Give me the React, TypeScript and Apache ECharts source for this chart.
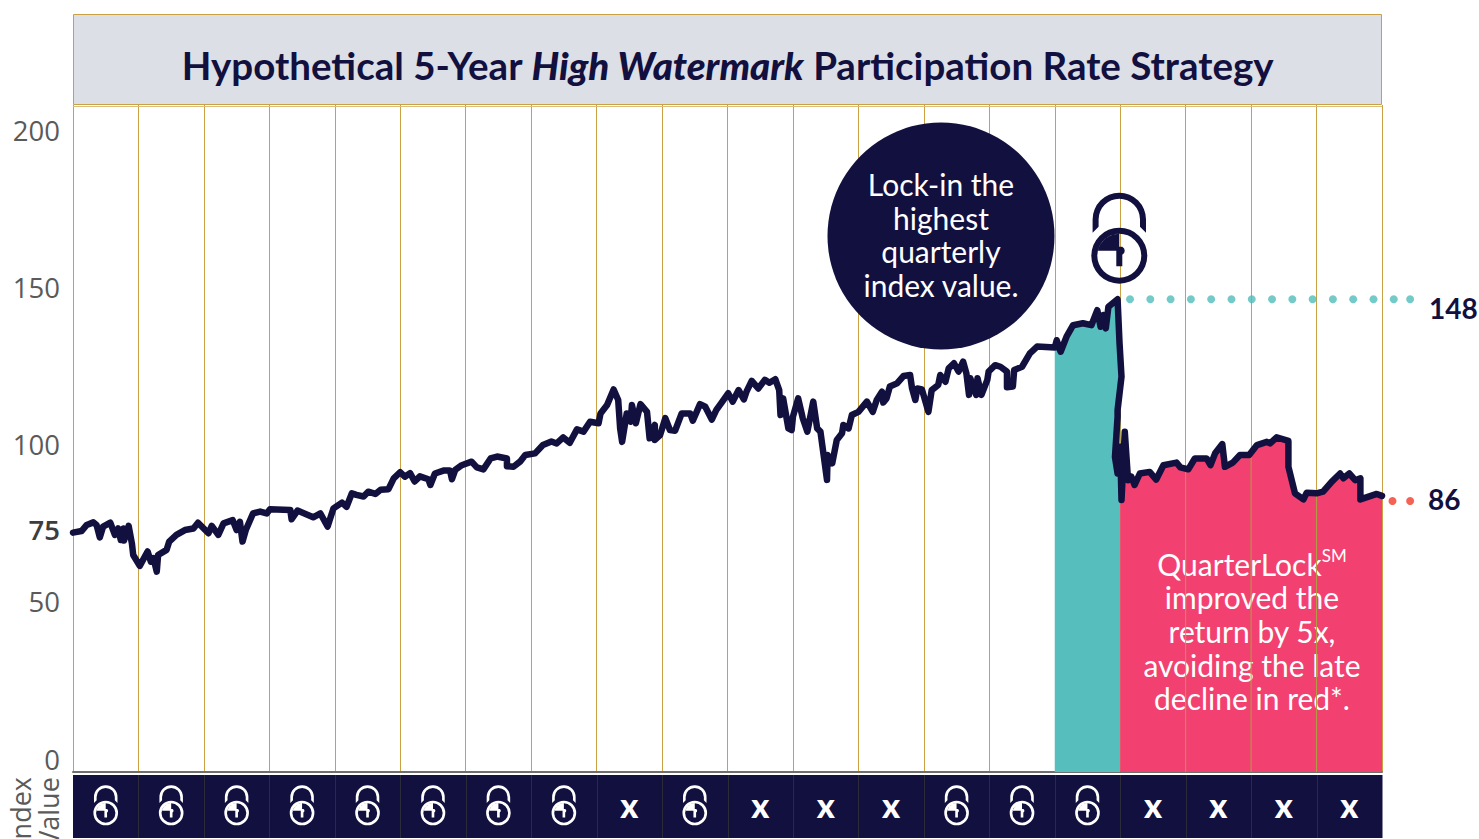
import React, { useEffect, useRef } from "react";
import * as echarts from "echarts";

const TEXT_FONT = "Lato";
const NAVY = "#12103F";
const GOLD = "#C9A044";

const quarterPos = [
  0, 0.13, 0.21, 0.31, 0.36, 0.41, 0.46, 0.57, 0.64, 0.69, 0.73, 0.77, 0.78, 0.85, 0.9, 0.92, 1.02, 1.14, 1.19, 1.23,
  1.28, 1.3, 1.43, 1.47, 1.58, 1.71, 1.84, 1.91, 2.07, 2.12, 2.22, 2.3, 2.44, 2.5, 2.55, 2.59, 2.64, 2.75, 2.86, 2.96,
  3.01, 3.32, 3.34, 3.43, 3.67, 3.78, 3.89, 3.98, 4.11, 4.18, 4.26, 4.33, 4.44, 4.51, 4.62, 4.7, 4.82, 4.9, 5.0, 5.07,
  5.15, 5.22, 5.3, 5.43, 5.46, 5.53, 5.66, 5.76, 5.79, 5.84, 5.94, 6.09, 6.17, 6.27, 6.38, 6.48, 6.63, 6.63, 6.73, 6.83,
  6.91, 7.06, 7.18, 7.31, 7.39, 7.49, 7.59, 7.7, 7.8, 7.9, 8.03, 8.06, 8.16, 8.26, 8.33, 8.36, 8.39, 8.46, 8.52, 8.54,
  8.6, 8.67, 8.77, 8.81, 8.89, 8.89, 8.97, 9.05, 9.12, 9.2, 9.3, 9.43, 9.47, 9.58, 9.66, 9.76, 9.83, 9.91, 10.01, 10.08,
  10.17, 10.25, 10.29, 10.37, 10.47, 10.57, 10.64, 10.73, 10.79, 10.81, 10.85, 10.93, 10.98, 11.0, 11.08, 11.15, 11.22, 11.31, 11.37, 11.42,
  11.52, 11.53, 11.6, 11.67, 11.75, 11.77, 11.85, 11.9, 12.0, 12.13, 12.22, 12.28, 12.36, 12.38, 12.43, 12.48, 12.59, 12.69, 12.79, 12.82,
  12.87, 12.9, 12.97, 13.07, 13.12, 13.22, 13.25, 13.33, 13.38, 13.46, 13.53, 13.6, 13.65, 13.69, 13.71, 13.8, 13.82, 13.88, 13.97, 13.99,
  14.09, 14.17, 14.27, 14.27, 14.36, 14.38, 14.5, 14.62, 14.73, 15.0, 15.03, 15.09, 15.18, 15.28, 15.43, 15.56, 15.65, 15.7, 15.74, 15.78,
  15.82, 15.96, 15.99, 16.02, 15.96, 15.96, 15.92, 15.96, 16.0, 16.02, 16.07, 16.12, 16.17, 16.22, 16.3, 16.45, 16.55, 16.66, 16.86, 16.92,
  17.04, 17.14, 17.32, 17.38, 17.45, 17.56, 17.6, 17.72, 17.83, 17.97, 18.09, 18.24, 18.29, 18.39, 18.57, 18.57, 18.67, 18.8, 18.85, 19.0,
  19.1, 19.23, 19.36, 19.41, 19.5, 19.59, 19.67, 19.67, 19.92, 20.0,
];

const indexValues = [
  74.9, 75.4, 77.3, 78.1, 77.3, 73.4, 76.8, 78.0, 74.2, 76.2, 72.6, 76.2, 72.4, 77.0, 71.5, 67.9, 64.5, 69.0, 65.8, 66.9,
  62.7, 67.9, 69.5, 72.1, 74.2, 75.7, 76.2, 78.0, 74.7, 77.0, 74.2, 77.8, 78.8, 75.7, 78.3, 72.1, 75.7, 80.9, 81.5, 80.9,
  82.2, 82.0, 79.1, 81.8, 79.7, 80.9, 76.8, 82.5, 84.3, 83.0, 87.2, 86.7, 86.2, 87.7, 87.0, 88.3, 88.5, 91.9, 93.8, 92.4,
  93.5, 90.9, 92.5, 91.6, 89.8, 93.4, 94.3, 94.3, 91.6, 94.5, 96.0, 97.1, 95.3, 94.7, 98.1, 98.7, 98.1, 95.7, 95.5, 97.1,
  99.2, 99.7, 102.3, 103.4, 102.8, 104.7, 103.0, 107.2, 106.5, 109.6, 109.1, 112.2, 114.8, 119.7, 116.4, 107.5, 103.3, 112.2, 109.6, 114.8,
  109.1, 115.1, 112.7, 104.4, 108.6, 103.9, 105.4, 110.7, 107.0, 106.8, 112.2, 112.2, 109.9, 115.1, 114.3, 110.3, 113.3, 115.6, 118.5, 115.9,
  119.5, 116.6, 119.0, 122.4, 120.0, 122.7, 121.8, 122.9, 119.5, 111.7, 116.9, 107.5, 107.0, 111.2, 116.9, 110.7, 106.5, 115.9, 107.5, 106.5,
  91.4, 99.2, 96.6, 103.9, 106.0, 108.6, 107.5, 111.7, 112.7, 115.9, 112.7, 116.4, 119.0, 115.6, 116.9, 120.6, 121.6, 123.9, 124.2, 120.0,
  116.4, 120.0, 119.7, 112.7, 119.5, 121.1, 124.2, 122.1, 126.3, 127.9, 125.3, 128.4, 124.7, 118.0, 123.2, 118.0, 123.2, 118.0, 122.7, 125.3,
  127.3, 126.8, 125.3, 120.4, 120.6, 125.8, 126.8, 131.0, 133.1, 132.8, 135.1, 131.5, 136.2, 139.8, 140.4, 139.8, 144.5, 139.3, 143.0, 138.8,
  145.6, 147.9, 134.1, 123.7, 113.2, 111.1, 98.6, 93.4, 101.8, 85.1, 106.5, 91.3, 92.4, 89.8, 93.4, 93.9, 91.5, 96.0, 96.8, 95.3,
  94.7, 98.1, 98.1, 96.0, 99.7, 102.6, 95.5, 96.8, 99.2, 99.2, 102.3, 103.3, 102.8, 104.7, 103.6, 95.5, 87.2, 85.3, 87.4, 87.2,
  87.7, 90.8, 93.4, 91.9, 93.4, 91.3, 91.9, 85.3, 87.0, 86.4,
];

const quarterMarks = ["lock", "lock", "lock", "lock", "lock", "lock", "lock", "lock", "x", "lock", "x", "x", "x", "lock", "lock", "lock", "x", "x", "x", "x"];
const axisTickLabels = [0, 50, 100, 150, 200];
const highlightedTick = [75];
const highDotsX = [16.15, 16.46, 16.77, 17.08, 17.39, 17.7, 18.01, 18.32, 18.63, 18.94, 19.25, 19.56, 19.87, 20.18, 20.43];
const lowDotsX = [20.16, 20.43];
const highValue = 147.9;
const lowValue = 84.8;
const lockQuarter = 16;
const overlayRules = [[17, 94.7], [18, 101.5], [19, 87.2]];

const titleParts = ["Hypothetical 5-Year ", "High Watermark", " Participation Rate Strategy"];
const bubbleText = "Lock-in the\nhighest\nquarterly\nindex value.";

const LOCK_PATH =
  "M28 0A28 28 0 1 1 -28 0A28 28 0 1 1 28 0ZM22 0A22 22 0 1 0 -22 0A22 22 0 1 0 22 0Z" +
  "M0 -22A22 22 0 0 0 -21.5 -5L-3 -5L-3 10.5L3 10.5L3 -1A4.5 4.5 0 0 0 3 -9L0 -9Z" +
  "M-26.7 -36.3A26.7 26.7 0 0 1 26.7 -36.3L26.7 -23L20.7 -29L20.7 -36.3A20.7 20.7 0 0 0 -20.7 -36.3L-20.7 -29L-26.7 -23Z";

echarts.graphic.registerShape("lockIcon", echarts.graphic.extendPath(LOCK_PATH, {}) as any);

const line = quarterPos.map((q, i) => [q, indexValues[i]]);
const tealStart = quarterPos.indexOf(15);
const tealEnd = quarterPos.indexOf(16.02);
const pinkStart = indexValues.indexOf(85.1);
const tealArea = [...line.slice(tealStart, tealEnd), [lockQuarter, indexValues[tealEnd]]];
const pinkArea = [[lockQuarter, indexValues[pinkStart]], ...line.slice(pinkStart)];

export default function App() {
  const ref = useRef<HTMLDivElement>(null);
  useEffect(() => {
    const chart = echarts.init(ref.current!, null, { renderer: "svg" });
    const tStyle = { fontFamily: TEXT_FONT, fontSize: 38.5, fontWeight: 700, color: NAVY };
    const n = { fontFamily: TEXT_FONT, fontSize: 30, lineHeight: 33.7, fill: "#fff", color: "#fff" };
    chart.setOption({
      animation: false,
      backgroundColor: "#fff",
      title: {
        text: `{a|${titleParts[0]}}{b|${titleParts[1]}}{a|${titleParts[2]}}`,
        left: 727.5,
        top: 45,
        textAlign: "center",
        padding: 0,
        textStyle: { rich: { a: tStyle, b: { ...tStyle, fontWeight: 900, fontStyle: "italic" } } },
      },
      grid: [
        { left: 73, right: 97, top: 105, height: 667, containLabel: false },
        { left: 73, right: 97, top: 775, height: 63, containLabel: false },
      ],
      xAxis: [
        {
          type: "value", gridIndex: 0, min: 0, max: 20, interval: 1,
          axisLabel: { show: false }, axisTick: { show: false },
          axisLine: { show: true, lineStyle: { color: "#6f6f6f", width: 2 } },
          splitLine: { show: true, lineStyle: { color: GOLD, width: 1 } },
        },
        {
          type: "category", gridIndex: 1, data: quarterMarks.map((_, i) => i),
          axisLabel: { show: false }, axisTick: { show: false }, axisLine: { show: false }, splitLine: { show: false },
        },
      ],
      yAxis: [
        {
          type: "value", gridIndex: 0, min: 0, max: 208.7,
          axisLine: { show: false }, axisTick: { show: false }, splitLine: { show: false },
          axisLabel: { show: false },
        },
        {
          type: "value", gridIndex: 0, min: -4.135, max: 208.2,
          axisLine: { show: false }, axisTick: { show: false }, splitLine: { show: false },
          position: "left",
          axisLabel: { customValues: axisTickLabels, margin: 13, fontFamily: "Open Sans", fontSize: 27.5, color: "#5a5a5a" },
        },
        { type: "value", gridIndex: 1, min: 0, max: 1, show: false },
        {
          type: "value", gridIndex: 0, min: -1, max: 207.7,
          axisLine: { show: false }, axisTick: { show: false }, splitLine: { show: false },
          position: "left",
          axisLabel: {
            customValues: highlightedTick, margin: 13,
            fontFamily: "Open Sans", fontSize: 27.5, fontWeight: 600, color: "#3d3d3d",
          },
        },
      ],
      series: [
        {
          type: "line", xAxisIndex: 0, yAxisIndex: 0, showSymbol: false, symbol: "none", z: 2,
          data: tealArea, lineStyle: { opacity: 0, width: 0 },
          areaStyle: { color: "#56BFBD", opacity: 1, origin: "start" },
        },
        {
          type: "line", xAxisIndex: 0, yAxisIndex: 0, showSymbol: false, symbol: "none", z: 2,
          data: pinkArea, lineStyle: { opacity: 0, width: 0 },
          areaStyle: { color: "#F24170", opacity: 1, origin: "start" },
        },
        {
          type: "custom", xAxisIndex: 0, yAxisIndex: 0, z: 6, clip: false, data: overlayRules,
          renderItem: (_: any, api: any) => {
            const a = api.coord([api.value(0), 0]);
            const b = api.coord([api.value(0), api.value(1)]);
            return {
              type: "line",
              shape: { x1: a[0], y1: a[1], x2: b[0], y2: b[1] },
              style: { stroke: "#AFA040", lineWidth: 1 },
            };
          },
        },
        {
          type: "line", xAxisIndex: 0, yAxisIndex: 0, showSymbol: false, symbol: "none", z: 7, data: line,
          lineStyle: { color: NAVY, width: 6.5, join: "round", cap: "round" },
        },
        {
          type: "scatter", xAxisIndex: 0, yAxisIndex: 0, clip: false, symbolSize: 8, z: 7,
          data: highDotsX.map((x) => [x, highValue]), itemStyle: { color: "#50BDBA" },
        },
        {
          type: "scatter", xAxisIndex: 0, yAxisIndex: 0, clip: false, symbolSize: 8, z: 7,
          data: lowDotsX.map((x) => [x, lowValue]), itemStyle: { color: "#F23A28" },
        },
        {
          type: "custom", xAxisIndex: 1, yAxisIndex: 2, z: 3,
          data: quarterMarks.map((_, i) => [i, 0.5]),
          renderItem: (_: any, api: any) => {
            const i = api.value(0) as number;
            const c = api.coord([i, 0.5]);
            const w = api.size([1, 0])[0];
            const h = 63;
            const kids: any[] = [
              { type: "rect", shape: { x: c[0] - w / 2, y: c[1] - h / 2, width: w + 0.5, height: h }, style: { fill: NAVY } },
            ];
            if (i > 0) {
              kids.push({
                type: "line",
                shape: { x1: Math.round(c[0] - w / 2) + 0.5, y1: c[1] - h / 2, x2: Math.round(c[0] - w / 2) + 0.5, y2: c[1] + h / 2 },
                style: { stroke: "#2b2b3a", lineWidth: 1 },
              });
            }
            if (quarterMarks[i] === "lock") {
              kids.push({
                type: "path", shape: { pathData: LOCK_PATH },
                x: c[0], y: 813, scaleX: 0.44, scaleY: 0.44, style: { fill: "#fff" },
              });
            } else {
              kids.push({
                type: "text",
                style: { text: "x", x: c[0], y: 804, align: "center", verticalAlign: "middle", fill: "#fff", font: `900 34px ${TEXT_FONT}` },
              });
            }
            return { type: "group", children: kids };
          },
        },
      ],
      graphic: {
        z: 4,
        elements: [
          { type: "rect", z: 1, shape: { x: 73.5, y: 14.5, width: 1308, height: 90 }, style: { fill: "#DCDFE6", stroke: GOLD, lineWidth: 1 } },
          { type: "line", z: 1, shape: { x1: 73, y1: 106.5, x2: 1382, y2: 106.5 }, style: { stroke: "#D9BE80", lineWidth: 1 } },
          { type: "circle", z: 4, shape: { cx: 941, cy: 236, r: 113.5 }, style: { fill: NAVY } },
          {
            type: "text", z: 5,
            style: { text: bubbleText, x: 941, y: 234.5, align: "center", verticalAlign: "middle", fill: "#fff", fontFamily: TEXT_FONT, fontSize: 30, lineHeight: 33.5 },
          },
          { type: "lockIcon", z: 5, x: 1119.3, y: 255.7, style: { fill: NAVY } },
          {
            type: "text", z: 5,
            style: {
              text: "{n|QuarterLock}{sup|SM}\n{n|improved the}\n{n|return by 5x,}\n{n|avoiding the late}\n{n|decline in red*.}",
              x: 1252, y: 631, align: "center", verticalAlign: "middle", fill: "#fff",
              rich: { n, sup: { ...n, fontSize: 17, verticalAlign: "top" } },
            },
          },
          { type: "text", z: 5, style: { text: "148", x: 1429, y: 308, verticalAlign: "middle", fill: NAVY, fontFamily: TEXT_FONT, fontSize: 28, fontWeight: 700 } },
          { type: "text", z: 5, style: { text: "86", x: 1428, y: 499, verticalAlign: "middle", fill: NAVY, fontFamily: TEXT_FONT, fontSize: 28, fontWeight: 700 } },
          {
            type: "text", z: 5, x: 34, y: 812, rotation: Math.PI / 2,
            style: { text: "Index\nValue", x: 0, y: 0, align: "center", verticalAlign: "middle", fill: "#5a5a5a", fontFamily: "Open Sans", fontSize: 27, lineHeight: 28 },
          },
        ],
      },
    });
    return () => chart.dispose();
  }, []);
  return <div ref={ref} style={{ position: "fixed", left: 0, top: 0, width: 1479, height: 839 }} />;
}
